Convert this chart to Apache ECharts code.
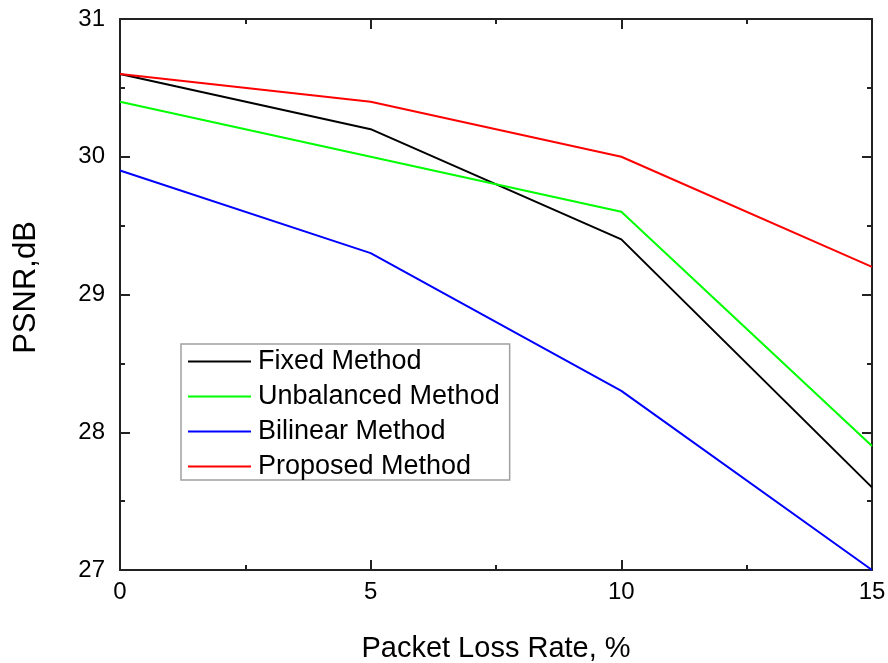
<!DOCTYPE html>
<html>
<head>
<meta charset="utf-8">
<script src="https://cdn.jsdelivr.net/npm/echarts@6/dist/echarts.min.js"></script>
<style>html,body{margin:0;padding:0;background:#fff}#c{width:888px;height:663px}</style>
</head>
<body>
<div id="c"></div>
<script>
const lossRates = [0, 5, 10, 15];
const fixedMethod = [30.6, 30.2, 29.4, 27.6];
const unbalancedMethod = [30.4, 30.0, 29.6, 27.9];
const bilinearMethod = [29.9, 29.3, 28.3, 27.0];
const proposedMethod = [30.6, 30.4, 30.0, 29.2];
const seriesNames = ['Fixed Method', 'Unbalanced Method', 'Bilinear Method', 'Proposed Method'];
const seriesColors = ['#000000', '#00ff00', '#0000ff', '#ff0000'];
const seriesValues = [fixedMethod, unbalancedMethod, bilinearMethod, proposedMethod];

const font = 'Liberation Sans, Arial, sans-serif';
const axisColor = '#222';
function baseAxis(extra) {
  return Object.assign({
    type: 'value',
    axisLine: { show: true, onZero: false, lineStyle: { color: axisColor, width: 2 } },
    axisTick: { show: true, inside: true, length: 10, lineStyle: { color: axisColor, width: 2 } },
    minorTick: { show: true, splitNumber: 2, length: 5, lineStyle: { color: axisColor, width: 2 } },
    splitLine: { show: false },
    axisLabel: { color: '#000', fontFamily: font, fontSize: 24 }
  }, extra);
}

const chart = echarts.init(document.getElementById('c'), null, { renderer: 'canvas' });
chart.setOption({
  animation: false,
  backgroundColor: '#fff',
  grid: { left: 120, right: 16, top: 19, bottom: 93, containLabel: false, outerBoundsMode: 'none' },
  xAxis: [
    baseAxis({ min: 0, max: 15, interval: 5, position: 'bottom',
      name: 'Packet Loss Rate, %', nameLocation: 'middle', nameGap: 64,
      nameTextStyle: { color: '#000', fontFamily: font, fontSize: 29 },
      axisLabel: { color: '#000', fontFamily: font, fontSize: 24, margin: 10 } }),
    baseAxis({ min: 0, max: 15, interval: 5, position: 'top', axisLabel: { show: false } })
  ],
  yAxis: [
    baseAxis({ min: 27, max: 31, interval: 1, position: 'left',
      name: 'PSNR,dB', nameLocation: 'middle', nameGap: 78,
      nameTextStyle: { color: '#000', fontFamily: font, fontSize: 31, padding: [0, 0, 0, 14] },
      axisLabel: { color: '#000', fontFamily: font, fontSize: 24, margin: 15 } }),
    baseAxis({ min: 27, max: 31, interval: 1, position: 'right', axisLabel: { show: false } })
  ],
  legend: {
    orient: 'vertical',
    left: 181, top: 344,
    padding: [4, 10, 0, 7],
    itemWidth: 63, itemHeight: 12, itemGap: 8,
    backgroundColor: '#fff',
    borderColor: '#a0a0a0', borderWidth: 1.5,
    textStyle: { color: '#000', fontFamily: font, fontSize: 27, lineHeight: 27, padding: [0, 0, 0, 2] },
    data: seriesNames.map(n => ({ name: n, icon: 'path://M0,0L63,0L63,2L0,2Z' }))
  },
  series: seriesNames.map((n, i) => ({
    name: n,
    type: 'line',
    xAxisIndex: 0, yAxisIndex: 0,
    data: lossRates.map((x, j) => [x, seriesValues[i][j]]),
    showSymbol: false, symbol: 'none',
    color: seriesColors[i],
    lineStyle: { color: seriesColors[i], width: 2 },
    z: 2
  }))
});
</script>
</body>
</html>
